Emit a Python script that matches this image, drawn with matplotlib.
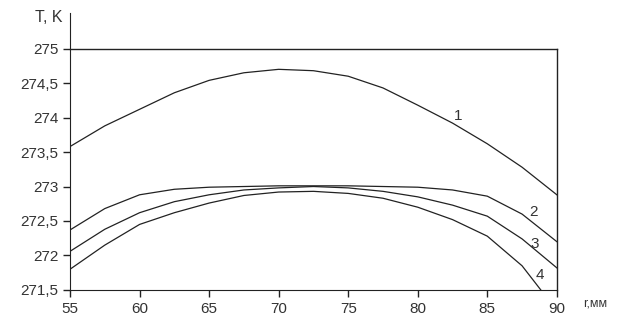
import numpy as np
import matplotlib.pyplot as plt
from matplotlib.ticker import FuncFormatter, MultipleLocator

plt.rcParams['font.family'] = ['Liberation Sans', 'DejaVu Sans']

# radius, mm
r = [55, 57.5, 60, 62.5, 65, 67.5, 70, 72.5, 75, 77.5, 80, 82.5, 85, 87.5, 90]
# temperature, K (curves 1-4)
t1 = [273.58, 273.88, 274.12, 274.36, 274.54, 274.65, 274.70, 274.68, 274.60, 274.43, 274.18, 273.92, 273.62, 273.28, 272.88]
t2 = [272.37, 272.68, 272.88, 272.96, 272.99, 273.00, 273.01, 273.01, 273.01, 273.00, 272.99, 272.95, 272.86, 272.60, 272.20]
t3 = [272.06, 272.38, 272.62, 272.78, 272.88, 272.95, 272.98, 273.00, 272.98, 272.93, 272.85, 272.73, 272.57, 272.24, 271.82]
t4 = [271.80, 272.15, 272.45, 272.62, 272.76, 272.87, 272.92, 272.93, 272.90, 272.83, 272.70, 272.52, 272.28, 271.85, 271.20]
curve_labels = ['1', '2', '3', '4']
label_pos = [(82.9, 274.03), (88.3, 272.63), (88.4, 272.17), (88.8, 271.72)]

fig = plt.figure(figsize=(6.17, 3.2), dpi=100)
ax = fig.add_axes([0.1135, 0.094, 0.789, 0.866])

for t in (t1, t2, t3, t4):
    ax.plot(r, t, color='#222222', lw=0.9)

for lab, (x, y) in zip(curve_labels, label_pos):
    ax.text(x, y, lab, fontsize=11, color='#333333', ha='center', va='center')

# frame: line at 275 and at 90
ax.plot([55, 90], [275, 275], color='#222222', lw=1.0, clip_on=False)
ax.plot([90, 90], [271.5, 275], color='#222222', lw=1.0, clip_on=False)

ax.set_xlim(55, 90)
ax.set_ylim(271.5, 275.52)
ax.spines['top'].set_visible(False)
ax.spines['right'].set_visible(False)
ax.spines['left'].set_color('#222222')
ax.spines['bottom'].set_color('#222222')

ax.xaxis.set_major_locator(MultipleLocator(5))
ax.set_yticks(np.arange(271.5, 275.01, 0.5))
ax.yaxis.set_major_formatter(FuncFormatter(lambda v, p: ('%g' % v).replace('.', ',')))
ax.tick_params(labelsize=11, colors='#222222', labelcolor='#333333', length=5, width=1)

fig.text(0.102, 0.945, 'T, K', fontsize=11.5, color='#333333', ha='right', va='center')
fig.text(0.945, 0.053, 'r,мм', fontsize=9, color='#333333', ha='left', va='center')

fig.savefig('out.png', dpi=100)
